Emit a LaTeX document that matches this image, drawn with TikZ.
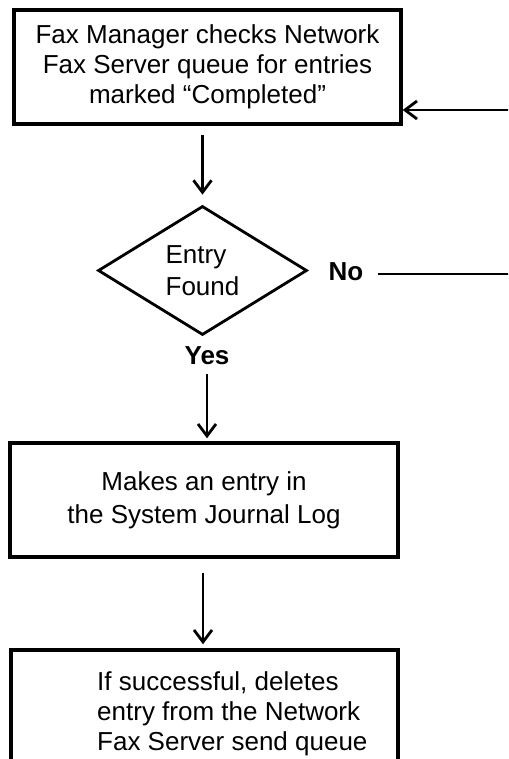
\documentclass[tikz,border=0pt]{standalone}
\usepackage{fontspec}
\setmainfont{Liberation Sans}
\usetikzlibrary{shapes.geometric,arrows.meta}

\tikzset{
    procbox/.style={draw, line width=3.4pt, rectangle, inner sep=0pt,
        font=\fontsize{26}{30}\selectfont, align=center},
    decision/.style={draw, line width=2.8pt, diamond, inner sep=0pt,
        minimum width=209pt, minimum height=129pt,
        font=\fontsize{26}{32}\selectfont, align=left},
    lbl/.style={inner sep=0pt, font=\fontsize{26}{30}\selectfont\bfseries},
    arr/.style={line width=2.8pt, -{Straight Barb[length=12pt,width=18pt]}},
    conn/.style={line width=2.8pt}
}

\begin{document}
\begin{tikzpicture}[x=1pt,y=-1pt]
        \clip (0,0) rectangle (508,759);
        \node[procbox, minimum width=387pt, minimum height=114pt] (check) at (207.5,67)
            {Fax Manager checks Network\\Fax Server queue for entries\\marked “Completed”};
        \node[decision] (found) at (202.5,270.5) {Entry\\Found};
        \node[lbl] (no) at (346,272) {No};
        \node[lbl] (yes) at (207,356) {Yes};
        \node[procbox, minimum width=388pt, minimum height=114pt,
            font=\fontsize{26}{33}\selectfont] (journal) at (204,500)
            {Makes an entry in\\the System Journal Log};
        \node[procbox, minimum width=387pt, minimum height=150pt] (delete) at (204.5,725) {};
        \node[inner sep=0pt, anchor=base west, align=left,
            font=\fontsize{26}{30}\selectfont] (deltext) at (97,750)
            {If successful, deletes\\entry from the Network\\Fax Server send queue};
        \coordinate (loopb) at (530,274);
        \coordinate (loopt) at (530,110);
        \draw[arr, shorten <=9pt, shorten >=10pt] (check.south -| found) -- (found.north);
        \draw[arr, shorten <=9pt, shorten >=3pt] (yes.south) -- (yes.south |- journal.north);
        \draw[arr, shorten <=14pt, shorten >=4pt] (journal.south -| 203,0) -- (delete.north -| 203,0);
        \draw[conn, shorten <=14pt] (no.east |- loopb) -- (loopb) -- (loopt);
        \draw[arr] (loopt) -- (check.east |- loopt);
    \end{tikzpicture}
\end{document}
